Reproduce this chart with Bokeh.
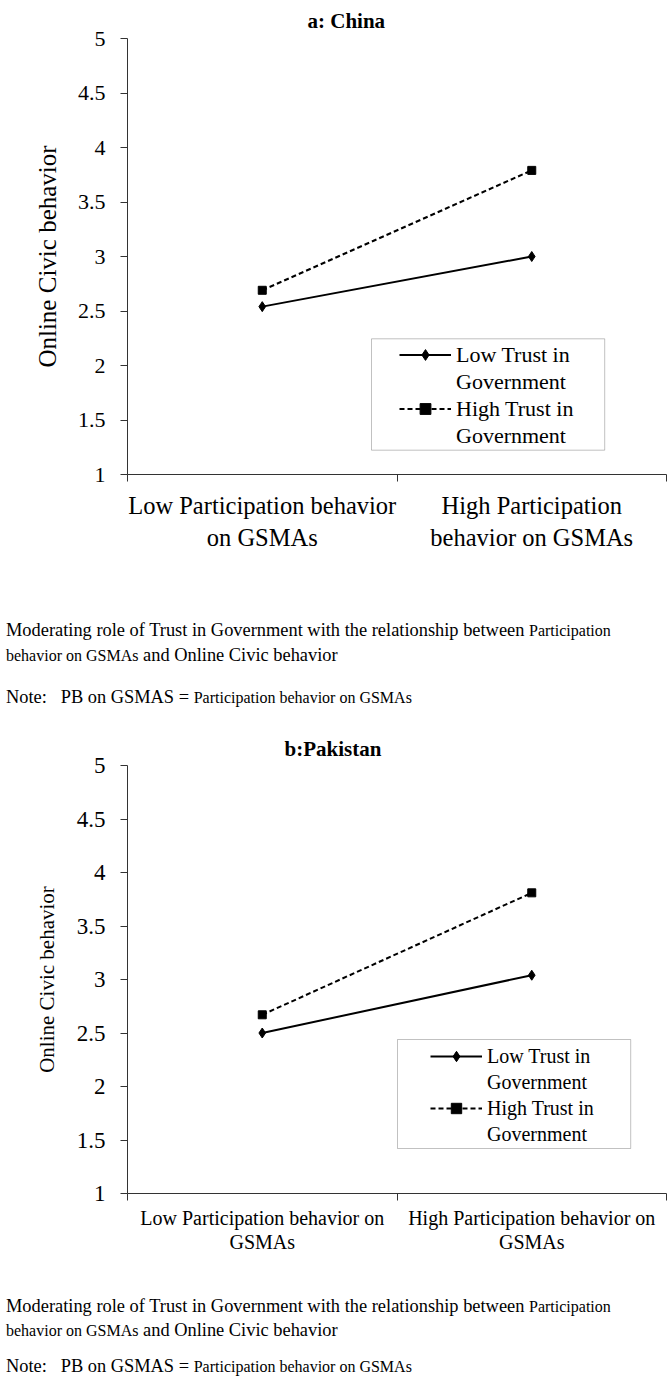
from bokeh.plotting import figure
from bokeh.models import Range1d, FixedTicker, Legend, LegendItem, BoxAnnotation, Div
from bokeh.layouts import column
from bokeh.embed import file_html
from bokeh.resources import INLINE

FONT = "Liberation Serif"

# ---------------- data ----------------
china_categories = ["Low Participation behavior\non GSMAs", "High Participation\nbehavior on GSMAs"]
pakistan_categories = ["Low Participation behavior on\nGSMAs", "High Participation behavior on\nGSMAs"]
china_low_trust = [2.54, 3.00]
china_high_trust = [2.69, 3.79]
pakistan_low_trust = [2.50, 3.04]
pakistan_high_trust = [2.67, 3.81]
y_ticks = [1, 1.5, 2, 2.5, 3, 3.5, 4, 4.5, 5]
y_tick_labels = ["1", "1.5", "2", "2.5", "3", "3.5", "4", "4.5", "5"]
legend_low = ["Low Trust in", "Government"]
legend_high = ["High Trust in", "Government"]
y_title = "Online Civic behavior"
caption_line1 = ["Moderating role of Trust in Government with the relationship between", "Participation"]
caption_line2 = ["behavior on GSMAs", "and Online Civic behavior"]
note_line = ["Note:&nbsp;&nbsp;&nbsp;PB on GSMAS =", "Participation behavior on GSMAs"]


def make_chart(title, cats, low, high, s):
    p = figure(width=670, height=s["h"], output_backend="svg", toolbar_location=None,
               x_range=Range1d(0, len(cats)), y_range=Range1d(y_ticks[0], y_ticks[-1]),
               min_border_left=s["bl"], min_border_right=s["br"],
               min_border_top=s["bt"], min_border_bottom=s["bb"])
    p.outline_line_color = None
    p.grid.visible = False

    xs = [i + 0.5 for i in range(len(cats))]
    r_low_line = p.line(xs, low, line_color="black", line_width=2)
    r_low_pt = p.scatter(xs, low, marker="diamond", size=s["dsize"], color="black")
    r_high_line = p.line(xs, high, line_color="black", line_width=2, line_dash="5 3")
    r_high_pt = p.scatter(xs, high, marker="square", size=s["ssize"], color="black")

    # title
    p.title.text = title
    p.title.align = "left"
    p.title.offset = s["toff"]
    p.title.standoff = s["tstand"]
    p.title.text_font = FONT
    p.title.text_font_size = s["tfs"]
    p.title.text_font_style = "bold"
    p.title.text_color = "black"

    # x axis
    xa = p.xaxis[0]
    xa.ticker = FixedTicker(ticks=xs, minor_ticks=list(range(len(cats) + 1)))
    xa.major_label_overrides = {x: c for x, c in zip(xs, cats)}
    xa.major_tick_out = 0
    xa.major_tick_in = 0
    xa.minor_tick_out = 7
    xa.minor_tick_in = 0
    xa.major_label_standoff = s["xstand"]
    xa.major_label_text_font = FONT
    xa.major_label_text_font_size = s["xfs"]
    xa.major_label_text_line_height = s["xlh"]
    xa.major_label_text_color = "black"
    xa.axis_line_color = "#333333"
    xa.minor_tick_line_color = "#333333"

    # y axis
    ya = p.yaxis[0]
    ya.ticker = FixedTicker(ticks=y_ticks)
    ya.major_label_overrides = {t: l for t, l in zip(y_ticks, y_tick_labels)}
    ya.major_tick_out = 7
    ya.major_tick_in = 0
    ya.minor_tick_out = 0
    ya.minor_tick_in = 0
    ya.major_label_standoff = s["ystand"]
    ya.major_label_text_font = FONT
    ya.major_label_text_font_size = s["yfs"]
    ya.major_label_text_color = "black"
    ya.axis_line_color = "#333333"
    ya.major_tick_line_color = "#333333"
    ya.axis_label = y_title
    ya.axis_label_text_font = FONT
    ya.axis_label_text_font_size = s["alfs"]
    ya.axis_label_text_font_style = "normal"
    ya.axis_label_text_color = "black"
    ya.axis_label_standoff = s["alstand"]

    # legend (frame box + items)
    lx, ly, lw, lh = s["lbox"]
    p.add_layout(BoxAnnotation(left=lx, right=lx + lw, bottom=ly, top=ly + lh,
                               left_units="screen", right_units="screen",
                               top_units="screen", bottom_units="screen",
                               fill_color=None, fill_alpha=0,
                               line_color="#333333", line_width=1))
    items = [
        LegendItem(label=legend_low[0], renderers=[r_low_line, r_low_pt]),
        LegendItem(label=legend_low[1], renderers=[]),
        LegendItem(label=legend_high[0], renderers=[r_high_line, r_high_pt]),
        LegendItem(label=legend_high[1], renderers=[]),
    ]
    leg = Legend(items=items, location=s["lloc"], orientation="vertical",
                 padding=0, margin=0, spacing=0,
                 glyph_width=s["gw"], glyph_height=s["rowh"], label_height=s["rowh"],
                 label_standoff=5, border_line_color=None, background_fill_alpha=0,
                 label_text_font=FONT, label_text_font_size=s["lfs"], label_text_color="black")
    p.add_layout(leg)
    return p


def make_caption(height, pad_top, line_h, note_gap):
    small = "font-size:16px;"
    html = (
        f'<div style="font-family:\'{FONT}\',serif;font-size:18.4px;color:#000;'
        f'line-height:{line_h}px;padding:{pad_top}px 0 0 6px;white-space:nowrap;margin:0;">'
        f'<div>{caption_line1[0]} <span style="{small}">{caption_line1[1]}</span></div>'
        f'<div><span style="{small}">{caption_line2[0]}</span> {caption_line2[1]}</div>'
        f'<div style="margin-top:{note_gap}px">{note_line[0]} <span style="{small}">{note_line[1]}</span></div>'
        f'</div>'
    )
    return Div(text=html, width=670, height=height, margin=0)


style_a = dict(h=600, bl=127, br=0, bt=38, bb=126, dsize=10, ssize=8,
               toff=180, tstand=12, tfs="21px",
               xstand=10, xfs="24.5px", xlh=1.2,
               ystand=15, yfs="22px", alfs="25px", alstand=14,
               lbox=(244, 24.3, 233.2, 111.4), lloc=(272, 25), gw=52, rowh=27, lfs="22px")

style_b = dict(h=560, bl=123, br=4, bt=45, bb=87, dsize=10, ssize=8,
               toff=157, tstand=10, tfs="21px",
               xstand=6, xfs="20px", xlh=1.1,
               ystand=15, yfs="23px", alfs="21px", alstand=15,
               lbox=(270, 45, 233.2, 109), lloc=(303, 46), gw=52, rowh=26, lfs="20px")

p1 = make_chart("a: China", china_categories, china_low_trust, china_high_trust, style_a)
cap1 = make_caption(120, 18, 24, 17)
p2 = make_chart("b:Pakistan", pakistan_categories, pakistan_low_trust, pakistan_high_trust, style_b)
cap2 = make_caption(100, 15, 23.5, 13)

layout = column(p1, cap1, p2, cap2, spacing=0)
open("out.html", "w").write(file_html(layout, INLINE))
